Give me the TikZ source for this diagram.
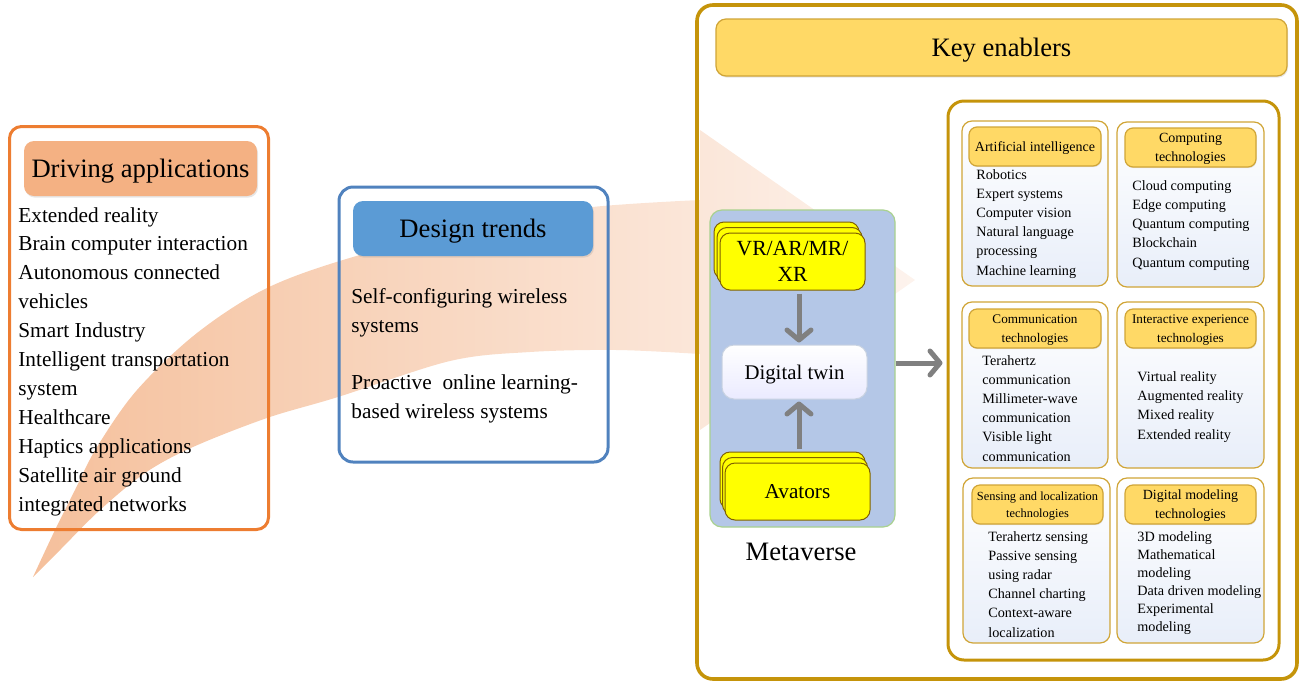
\documentclass[tikz,border=0pt]{standalone}
\usepackage{fontspec}
\setmainfont{Liberation Serif}
\usetikzlibrary{arrows.meta,shadows}
\definecolor{bandL}{RGB}{245,192,156}
\definecolor{bandM}{RGB}{248,208,184}
\definecolor{bandR}{RGB}{253,243,237}
\definecolor{orgB}{RGB}{237,125,49}
\definecolor{orgH}{RGB}{244,177,131}
\definecolor{bluB}{RGB}{80,130,190}
\definecolor{bluH}{RGB}{91,155,213}
\definecolor{goldB}{RGB}{197,148,10}
\definecolor{goldT}{RGB}{208,165,55}
\definecolor{yelH}{RGB}{255,217,102}
\definecolor{mvFill}{RGB}{180,199,231}
\definecolor{mvDraw}{RGB}{169,209,142}
\definecolor{yelS}{RGB}{255,255,0}
\definecolor{brownS}{RGB}{127,96,0}
\definecolor{arrG}{RGB}{128,128,128}
\definecolor{panelB}{RGB}{232,238,249}
\definecolor{dtDraw}{RGB}{200,210,225}
\newcommand\fHead{\fontsize{13.3}{16}\selectfont}
\newcommand\fBody{\fontsize{10.65}{14.45}\selectfont}
\newcommand\fSmall{\fontsize{7.1}{9.6}\selectfont}
\newcommand\fSmallB{\fontsize{7.1}{9.0}\selectfont}
\newcommand\fSub{\fontsize{7}{9.5}\selectfont}
\newcommand\fSubS{\fontsize{6.6}{9.5}\selectfont}
\newcommand\fSubT{\fontsize{6.2}{8.5}\selectfont}
\begin{document}
\begin{tikzpicture}[x=0.5pt,y=-0.5pt,
  bigbox/.style={draw, line width=1.5pt, rounded corners=6pt, inner sep=0pt},
  headbox/.style={rounded corners=5pt, inner sep=0pt, font=\fHead, text depth=0pt,
     drop shadow={shadow xshift=0.5pt, shadow yshift=-0.8pt, opacity=0.2}},
  listtext/.style={anchor=base west, align=left, inner sep=0pt},
  subpanel/.style={draw=goldT, line width=0.6pt, rounded corners=5pt, inner sep=0pt,
     top color=white, bottom color=panelB, minimum width=73pt, minimum height=82.5pt},
  subhead/.style={draw=goldT, line width=0.6pt, fill=yelH, rounded corners=4pt, inner sep=0pt,
     align=center, minimum width=66pt, minimum height=19.5pt, font=\fSub, text depth=0pt,
     drop shadow={shadow xshift=0.3pt, shadow yshift=-0.6pt, opacity=0.18}},
  stackbox/.style={draw=brownS, line width=0.5pt, fill=yelS, rounded corners=5pt, inner sep=0pt,
     minimum width=72.5pt, minimum height=28.5pt},
  garrow/.style={draw=arrG, line width=2.5pt, -{Straight Barb[round,length=5pt,width=12pt]}}
]
\useasboundingbox (0,0) rectangle (1302,681);

% background swoosh arrow
\shade[left color=bandL, middle color=bandM, right color=bandR]
  plot[smooth, tension=0.55] coordinates {(33,577) (55,530) (75,490) (97,447) (137,390) (197,333) (267,288) (353,257) (470,228) (583,208) (700,200)}
  -- (700,130) -- (915,280) -- (700,430) -- (700,354)
  -- plot[smooth, tension=0.55] coordinates {(700,354) (617,350) (530,352) (450,361) (338,397) (267,418) (193,447) (145,473) (100,510) (60,550) (33,577)}
  -- cycle;

% left box
\node[bigbox, draw=orgB, minimum width=129.5pt, minimum height=201.5pt] (dabox) at (139,328) {};
\node[headbox, fill=orgH, minimum width=116.5pt, minimum height=27.5pt] (dahead) at (140.5,168.5) {Driving applications};
\node[listtext, font=\fBody] (dalist) at (18,511) {Extended reality\\Brain computer interaction\\Autonomous connected\\vehicles\\Smart Industry\\Intelligent transportation\\system\\Healthcare\\Haptics applications\\Satellite air ground\\integrated networks};

% middle box
\node[bigbox, draw=bluB, rounded corners=7pt, minimum width=134.5pt, minimum height=137.5pt] (dtbox) at (473.5,324.5) {};
\node[headbox, fill=bluH, minimum width=120pt, minimum height=27.5pt] (dthead) at (473,228.5) {Design trends};
\node[listtext, font=\fBody] (dt1) at (351,332) {Self-configuring wireless\\systems};
\node[listtext, font=\fBody] (dt2) at (351,418) {Proactive\ \ online learning-\\based wireless systems};

% right big box
\node[bigbox, draw=goldB, line width=1.8pt, rounded corners=8pt, minimum width=300pt, minimum height=337pt] (kebox) at (997,342) {};
\node[headbox, draw=goldT, line width=0.6pt, fill=yelH, minimum width=285.5pt, minimum height=28.5pt] (kehead) at (1001.5,47.5) {Key enablers};

% metaverse panel
\node[draw=mvDraw, line width=0.6pt, fill=mvFill, rounded corners=6pt, minimum width=92.5pt, minimum height=158.5pt, inner sep=0pt] (mv) at (802.5,368.5) {};
\node[stackbox] (vr3) at (786.5,250.5) {};
\node[stackbox] (vr2) at (789.5,256) {};
\node[stackbox, align=center, font=\fontsize{10.8}{13}\selectfont] (vr) at (792.5,261.5) {VR/AR/MR/\\XR};
\node[draw=dtDraw, line width=0.5pt, top color=white, bottom color=white!92!blue, rounded corners=6pt,
      minimum width=72.5pt, minimum height=27pt, inner sep=0pt, text depth=0pt, font=\fontsize{10.4}{12}\selectfont] (dt) at (794.5,372) {Digital twin};
\node[stackbox] (av3) at (792.5,480.5) {};
\node[stackbox] (av2) at (795,486) {};
\node[stackbox, text depth=0pt, font=\fontsize{10.6}{12}\selectfont] (av) at (797.5,491.5) {Avators};
\node[font=\fHead] (mvl) at (801,552) {Metaverse};

\coordinate (ax) at (799,0);
\coordinate (ke) at (943,363);
\draw[garrow, shorten <=1.5pt, shorten >=1pt] (vr.south -| ax) -- (dt.north -| ax);
\draw[garrow, shorten <=1.5pt, shorten >=1pt] (av3.north -| ax) -- (dt.south -| ax);

% inner enabler grid
\node[bigbox, draw=goldB, line width=1.5pt, rounded corners=8pt, minimum width=165.5pt, minimum height=279.5pt] (grid) at (1113.5,380.5) {};
\draw[garrow, shorten >=2pt] (mv.east |- ke) -- (grid.west |- ke);

\node[subpanel] (ai) at (1035,203.5) {};
\node[subpanel, minimum width=73.5pt] (cp) at (1190.5,204.5) {};
\node[subpanel, minimum height=83pt] (cm) at (1035,385) {};
\node[subpanel, minimum width=73.5pt, minimum height=83pt] (ie) at (1190.5,385) {};
\node[subpanel, minimum width=73.5pt] (sl) at (1036.5,560.5) {};
\node[subpanel, minimum width=73.5pt] (dm) at (1190.5,560.5) {};

\node[subhead] (aih) at (1035,146.5) {Artificial intelligence};
\node[subhead, minimum width=65.5pt] (cph) at (1190.5,147.5) {Computing\\technologies};
\node[subhead, font=\fSubS] (cmh) at (1035,328.5) {Communication\\technologies};
\node[subhead, minimum width=65.5pt, font=\fSubS] (ieh) at (1190.5,328.5) {Interactive experience\\technologies};
\node[subhead, minimum width=65.5pt, font=\fSubT] (slh) at (1037.5,504.5) {Sensing and localization\\technologies};
\node[subhead, minimum width=65.5pt] (dmh) at (1190.5,504.5) {Digital modeling\\technologies};

\node[listtext, font=\fSmall] (ail) at (976,275) {Robotics\\Expert systems\\Computer vision\\Natural language\\processing\\Machine learning};
\node[listtext, font=\fSmall] (cpl) at (1132,267) {Cloud computing\\Edge computing\\Quantum computing\\Blockchain\\Quantum computing};
\node[listtext, font=\fSmall] (cml) at (982,461) {Terahertz\\communication\\Millimeter-wave\\communication\\Visible light\\communication};
\node[listtext, font=\fSmall] (iel) at (1137,439) {Virtual reality\\Augmented reality\\Mixed reality\\Extended reality};
\node[listtext, font=\fSmall] (sll) at (988,637) {Terahertz sensing\\Passive sensing\\using radar\\Channel charting\\Context-aware\\localization};
\node[listtext, font=\fSmallB] (dml) at (1137,631) {3D modeling\\Mathematical\\modeling\\Data driven modeling\\Experimental\\modeling};
\end{tikzpicture}
\end{document}
